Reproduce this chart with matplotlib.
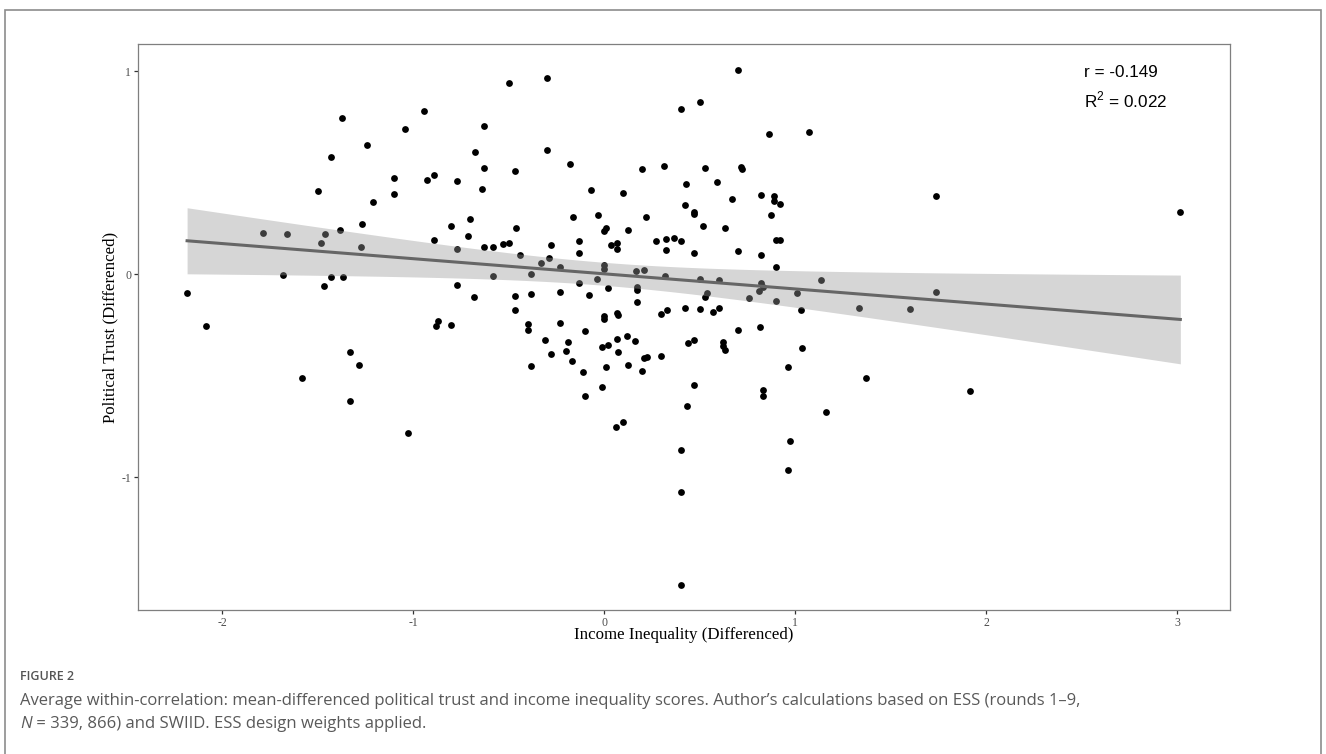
import numpy as np
import matplotlib
matplotlib.use("Agg")
from matplotlib import pyplot as plt
from matplotlib.patches import Rectangle

plt.rcParams['mathtext.fontset'] = 'custom'
plt.rcParams['mathtext.rm'] = 'Liberation Sans'

# country-year points: (income inequality diff, political trust diff)
pts = [
    (-1.370, 0.767), (-0.941, 0.801), (-0.630, 0.729), (-1.040, 0.713), (-1.239, 0.634),
    (-1.429, 0.578), (-0.677, 0.599), (-0.630, 0.524), (-1.099, 0.475), (-0.928, 0.465),
    (-0.890, 0.486), (-0.768, 0.460), (-0.641, 0.420), (-1.499, 0.410), (-1.099, 0.392),
    (-1.211, 0.356), (-0.700, 0.273), (-0.799, 0.235), (-1.267, 0.248), (-0.710, 0.186),
    (-1.381, 0.218), (-1.785, 0.202), (-1.661, 0.199), (-1.461, 0.197), (-1.483, 0.151),
    (-1.271, 0.135), (-0.890, 0.167), (-0.768, 0.125), (-0.630, 0.135), (-0.580, 0.135),
    (-1.679, -0.005), (-1.429, -0.016), (-1.366, -0.013), (-1.466, -0.059), (-0.580, -0.010),
    (-2.183, -0.095), (-0.768, -0.053), (-0.679, -0.115), (-2.084, -0.256), (-0.871, -0.230),
    (-0.881, -0.255), (-0.799, -0.251),
    (-1.330, -0.384), (-1.281, -0.448), (-1.580, -0.511), (-1.330, -0.624), (-1.028, -0.783),
    (-0.499, 0.939), (-0.298, 0.966), (0.702, 1.006), (0.401, 0.814), (0.501, 0.846),
    (0.862, 0.690), (1.073, 0.701), (-0.298, 0.611), (-0.466, 0.509), (-0.178, 0.540),
    (0.201, 0.519), (0.314, 0.532), (0.530, 0.522), (0.716, 0.527), (0.721, 0.517),
    (0.431, 0.442), (0.590, 0.452), (-0.068, 0.414), (0.101, 0.401), (0.672, 0.371),
    (0.822, 0.387), (0.888, 0.384), (0.888, 0.360), (0.921, 0.343), (0.422, 0.338),
    (0.471, 0.307), (0.471, 0.294), (-0.162, 0.281), (-0.033, 0.289), (0.222, 0.282),
    (0.874, 0.291), (0.520, 0.238), (0.632, 0.227), (-0.462, 0.228), (0.009, 0.228),
    (0.002, 0.210), (0.124, 0.217), (-0.527, 0.146), (-0.499, 0.151), (-0.279, 0.141),
    (-0.129, 0.164), (-0.129, 0.105), (0.035, 0.145), (0.068, 0.153), (0.068, 0.125),
    (0.271, 0.161), (0.323, 0.171), (0.368, 0.176), (0.401, 0.163), (0.323, 0.118),
    (0.471, 0.103), (0.702, 0.115), (0.822, 0.092), (0.902, 0.167), (0.921, 0.167),
    (0.902, 0.036), (-0.440, 0.092), (-0.288, 0.080), (-0.332, 0.056), (-0.230, 0.036),
    (0.002, 0.046), (0.002, 0.023), (0.168, 0.015), (0.211, 0.020), (-0.381, 0.002),
    (-0.038, -0.023), (-0.133, -0.044), (0.321, -0.011), (0.501, -0.026), (0.600, -0.030),
    (0.822, -0.046), (0.832, -0.064), (0.810, -0.084), (1.134, -0.031), (1.010, -0.092),
    (0.902, -0.131), (0.761, -0.120), (0.539, -0.095), (0.531, -0.113), (-0.466, -0.107),
    (-0.384, -0.097), (-0.232, -0.087), (-0.079, -0.105), (0.021, -0.071), (0.171, -0.062),
    (0.171, -0.077), (0.171, -0.140), (-0.466, -0.179), (1.030, -0.177), (0.422, -0.166),
    (0.501, -0.171), (0.571, -0.186), (0.600, -0.167), (0.298, -0.199), (0.330, -0.177),
    (-0.400, -0.248), (-0.400, -0.274), (-0.230, -0.243), (-0.098, -0.279), (0.002, -0.205),
    (0.002, -0.220), (0.066, -0.192), (0.072, -0.204), (0.700, -0.274), (0.815, -0.263),
    (-0.309, -0.325), (-0.190, -0.333), (0.122, -0.304), (0.066, -0.320), (0.162, -0.328),
    (0.021, -0.350), (-0.009, -0.360), (0.438, -0.340), (0.471, -0.327), (0.625, -0.335),
    (0.625, -0.355), (1.038, -0.365),
    (-0.279, -0.396), (-0.199, -0.378), (-0.169, -0.429), (-0.381, -0.453), (-0.110, -0.481),
    (-0.098, -0.599), (0.072, -0.383), (0.010, -0.460), (-0.010, -0.555), (0.124, -0.448),
    (0.201, -0.479), (0.211, -0.414), (0.223, -0.409), (0.300, -0.404), (0.632, -0.376),
    (0.962, -0.460), (0.471, -0.545), (0.435, -0.649), (0.832, -0.570), (0.832, -0.599),
    (1.161, -0.680), (0.061, -0.755), (0.101, -0.731), (0.972, -0.823), (0.401, -0.865),
    (0.962, -0.966), (0.401, -1.075), (0.401, -1.534),
    (1.736, 0.384), (3.017, 0.305), (1.335, -0.166), (1.600, -0.172), (1.738, -0.089),
    (1.372, -0.511), (1.916, -0.576),
]
inequality = np.array([p[0] for p in pts])
trust = np.array([p[1] for p in pts])

x_ticks = [-2, -1, 0, 1, 2, 3]
y_ticks = [-1, 0, 1]
stats_text = ["r = -0.149", "R$^2$ = 0.022"]

# linear fit + 95% band (like geom_smooth(method='lm'))
n = len(inequality)
slope, intercept = np.polyfit(inequality, trust, 1)
resid = trust - (intercept + slope * inequality)
s = np.sqrt(np.sum(resid ** 2) / (n - 2))
xbar = inequality.mean()
sxx = np.sum((inequality - xbar) ** 2)
xs = np.linspace(inequality.min(), inequality.max(), 100)
fit = intercept + slope * xs
se = s * np.sqrt(1.0 / n + (xs - xbar) ** 2 / sxx)
tcrit = 1.972

fig = plt.figure(figsize=(13.26, 7.54), dpi=100)
ax = fig.add_axes([138 / 1326, 1 - 610 / 754, 1092 / 1326, 566 / 754])

ax.scatter(inequality, trust, s=24, color='black', linewidths=0, zorder=2)
ax.fill_between(xs, fit - tcrit * se, fit + tcrit * se, color='#999999', alpha=0.4,
                linewidth=0, zorder=3)
ax.plot(xs, fit, color='#666666', lw=2.2, zorder=4)

ax.set_xlim(-2.44, 3.277)
ax.set_ylim(-1.655, 1.133)
ax.set_xticks(x_ticks)
ax.set_yticks(y_ticks)
ax.set_xticklabels([str(t) for t in x_ticks])
ax.set_yticklabels([str(t) for t in y_ticks])
ax.tick_params(length=3, width=0.9, color='#333333', labelsize=8.5, labelcolor='#4d4d4d', pad=2)
for lab in ax.get_xticklabels() + ax.get_yticklabels():
    lab.set_family('Liberation Serif')
for sp in ax.spines.values():
    sp.set_color('#7f7f7f')
    sp.set_linewidth(0.9)

ax.text(2.513, 0.992, stats_text[0], family='Liberation Sans', fontsize=12.3, va='center', ha='left')
ax.text(2.513, 0.857, stats_text[1], family='Liberation Sans', fontsize=12.3, va='center', ha='left')

fig.text(684 / 1326, 1 - 635 / 754, 'Income Inequality (Differenced)', family='Liberation Serif',
         fontsize=12.2, ha='center', va='center')
fig.text(110 / 1326, 1 - 327 / 754, 'Political Trust (Differenced)', family='Liberation Serif',
         fontsize=12.2, ha='center', va='center', rotation=90)

# outer frame and caption
fig.patches.append(Rectangle((4.5 / 1326, -0.05), 1316 / 1326, 1.05 - 10 / 754,
                             transform=fig.transFigure, fill=False, edgecolor='#8c8c8c', lw=1.2))
fig.text(20 / 1326, 1 - 677 / 754, 'FIGURE 2', family='Open Sans', fontsize=9,
         fontweight='semibold', color='#555555', va='center', ha='left')
fig.text(20 / 1326, 1 - 701 / 754,
         'Average within-correlation: mean-differenced political trust and income inequality scores. '
         'Author\u2019s calculations based on ESS (rounds 1\u20139,',
         family='Open Sans', fontsize=12, color='#595959', va='center', ha='left')
tN = fig.text(20 / 1326, 1 - 724 / 754, 'N', family='Open Sans', fontstyle='italic',
              fontsize=12, color='#595959', va='center', ha='left')
fig.canvas.draw()
bb = tN.get_window_extent(fig.canvas.get_renderer())
fig.text(bb.x1 / 1326, 1 - 724 / 754, ' = 339, 866) and SWIID. ESS design weights applied.',
         family='Open Sans', fontsize=12, color='#595959', va='center', ha='left')

fig.savefig('out.png', dpi=100)
